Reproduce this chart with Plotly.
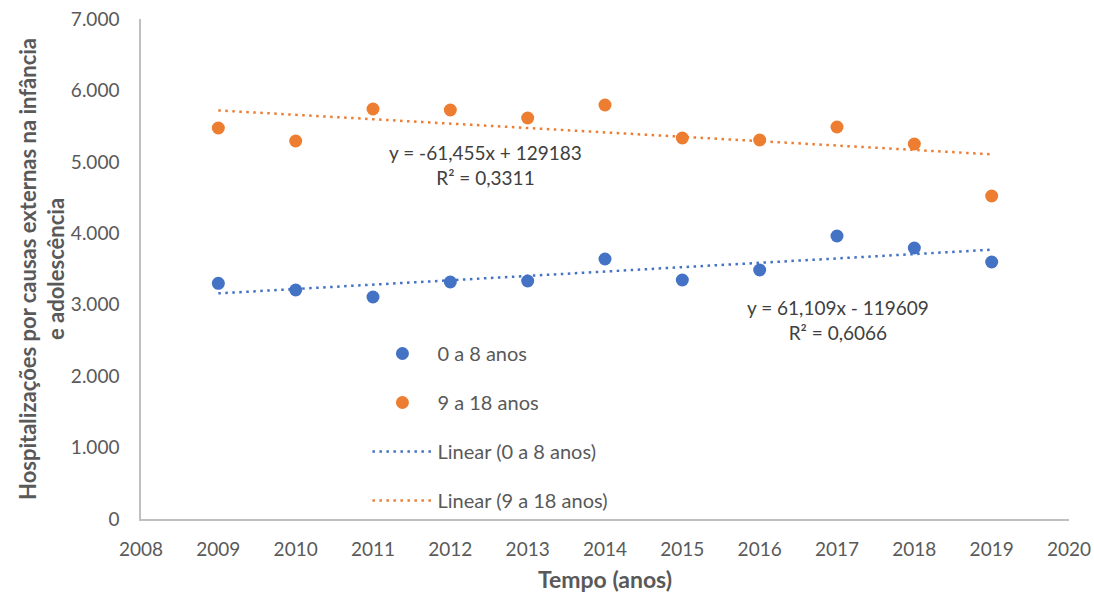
import plotly.graph_objects as go

years = [2009, 2010, 2011, 2012, 2013, 2014, 2015, 2016, 2017, 2018, 2019]
grupo_0_8 = [3300, 3206, 3108, 3318, 3332, 3640, 3346, 3486, 3962, 3794, 3598]
grupo_9_18 = [5474, 5292, 5740, 5726, 5614, 5796, 5334, 5306, 5488, 5250, 4522]

# trendline coefficients (as reported on the chart)
slope_0_8, intercept_0_8, r2_0_8 = 61.109, -119609, 0.6066
slope_9_18, intercept_9_18, r2_9_18 = -61.455, 129183, 0.3311

trend_x = [years[0], years[-1]]
trend_0_8 = [slope_0_8 * x + intercept_0_8 for x in trend_x]
trend_9_18 = [slope_9_18 * x + intercept_9_18 for x in trend_x]

BLUE = "#4472C4"
ORANGE = "#ED7D31"
TXT = "#595959"
FONT = "Lato, Carlito, 'Open Sans', sans-serif"

fig = go.Figure()
fig.add_trace(go.Scatter(x=years, y=grupo_0_8, mode="markers", name="0 a 8 anos",
                         marker=dict(color=BLUE, size=13), legendgroup="a"))
fig.add_trace(go.Scatter(x=years, y=grupo_9_18, mode="markers", name="9 a 18 anos",
                         marker=dict(color=ORANGE, size=13), legendgroup="b"))
fig.add_trace(go.Scatter(x=trend_x, y=trend_0_8, mode="lines", name="Linear (0 a 8 anos)",
                         line=dict(color=BLUE, width=2.5, dash="2.5px,4.5px"), legendgroup="c"))
fig.add_trace(go.Scatter(x=trend_x, y=trend_9_18, mode="lines", name="Linear (9 a 18 anos)",
                         line=dict(color=ORANGE, width=2.5, dash="2.5px,4.5px"), legendgroup="d"))

def fmt(v, d):
    return f"{v:.{d}f}".replace(".", ",")

eq_9_18 = f"y = {fmt(slope_9_18, 3)}x + {intercept_9_18}<br>R² = {fmt(r2_9_18, 4)}"
eq_0_8 = f"y = {fmt(slope_0_8, 3)}x - {abs(intercept_0_8)}<br>R² = {fmt(r2_0_8, 4)}"

fig.add_annotation(x=2012.45, y=4960, xref="x", yref="y", text=eq_9_18, showarrow=False,
                   font=dict(size=19, color="#404040", family=FONT), align="center")
fig.add_annotation(x=2017.01, y=2790, xref="x", yref="y", text=eq_0_8, showarrow=False,
                   font=dict(size=19, color="#404040", family=FONT), align="center")

fig.update_layout(
    width=1094, height=594,
    margin=dict(l=141, r=25, t=19, b=75, autoexpand=False),
    paper_bgcolor="white", plot_bgcolor="white",
    separators=",.",
    font=dict(family=FONT, size=19, color=TXT),
    legend=dict(x=0.244, y=0.37, xanchor="left", yanchor="top",
                bgcolor="rgba(0,0,0,0)", font=dict(size=20, color=TXT),
                tracegroupgap=20, itemwidth=60),
    xaxis=dict(range=[2008, 2020], tickmode="linear", tick0=2008, dtick=1, automargin=False,
               showgrid=False, zeroline=False, showline=True, linecolor="#BFBFBF", linewidth=1.5,
               ticks="", ticklabelstandoff=12, tickfont=dict(size=19, color=TXT),
               title=dict(text="<b>Tempo (anos)</b>", font=dict(size=23, color=TXT), standoff=13)),
    yaxis=dict(range=[0, 7000], tickmode="linear", tick0=0, dtick=1000, tickformat=",d", automargin=False,
               showgrid=False, zeroline=False, showline=True, linecolor="#BFBFBF", linewidth=1.5,
               ticks="", ticklabelstandoff=16, tickfont=dict(size=19, color=TXT),
               title=dict(text="<b>Hospitalizações por causas externas na infância<br>e adolescência</b>",
                          font=dict(size=22, color=TXT), standoff=0)),
)

fig.write_html("out.html", post_script="document.body.style.margin='0';",
               config={"displayModeBar": False})
